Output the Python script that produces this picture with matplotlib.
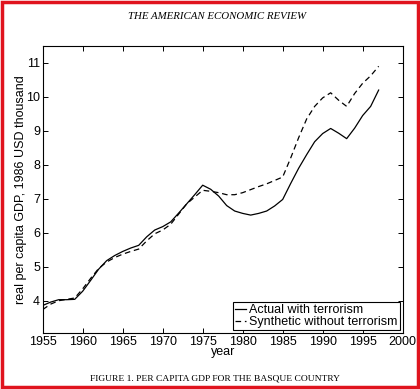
import matplotlib.pyplot as plt
import numpy as np
from matplotlib.patches import Rectangle

years = list(range(1955, 1998))

# real per capita GDP, 1986 USD thousand
actual = [3.86, 3.96, 4.03, 4.03, 4.04, 4.28, 4.6, 4.93, 5.18, 5.33, 5.45,
          5.55, 5.63, 5.88, 6.08, 6.18, 6.32, 6.58, 6.85, 7.12, 7.40, 7.28,
          7.08, 6.80, 6.64, 6.57, 6.52, 6.57, 6.64, 6.79, 6.98, 7.45, 7.90,
          8.30, 8.68, 8.92, 9.07, 8.93, 8.77, 9.08, 9.45, 9.72, 10.20]
synthetic = [3.74, 3.90, 4.00, 4.04, 4.08, 4.35, 4.66, 4.95, 5.14, 5.27, 5.37,
             5.45, 5.52, 5.76, 5.97, 6.08, 6.25, 6.55, 6.85, 7.05, 7.25, 7.22,
             7.18, 7.12, 7.12, 7.18, 7.27, 7.36, 7.44, 7.54, 7.64, 8.20, 8.80,
             9.35, 9.72, 9.97, 10.12, 9.90, 9.72, 10.10, 10.40, 10.62, 10.90]

xticks = list(range(1955, 2001, 5))
yticks = [4, 5, 6, 7, 8, 9, 10, 11]

plt.rcParams['font.family'] = ['Liberation Sans', 'DejaVu Sans']

fig = plt.figure(figsize=(4.2, 3.89), dpi=100)
ax = fig.add_axes([0.1017, 0.144, 0.857, 0.738])

ax.plot(years, actual, color='black', linewidth=0.9, label='Actual with terrorism')
ax.plot(years, synthetic, color='black', linewidth=0.9, dashes=(4.5, 3),
        label='Synthetic without terrorism')

ax.set_xlim(1955, 2000)
ax.set_ylim(3.05, 11.5)
ax.set_xticks(xticks)
ax.set_yticks(yticks)
ax.tick_params(direction='in', length=3.5, width=0.7, labelsize=9,
               top=True, right=True, pad=2)
for s in ax.spines.values():
    s.set_linewidth(0.8)

ax.set_xlabel('year', fontsize=9, labelpad=-1)
ax.set_ylabel('real per capita GDP, 1986 USD thousand', fontsize=9, labelpad=-0.5)

leg = ax.legend(loc='lower right', fontsize=9, handlelength=0.9,
                handletextpad=0.25, borderpad=0.15, labelspacing=0.0,
                borderaxespad=0.25, fancybox=False, framealpha=1)
leg.get_frame().set_edgecolor('black')
leg.get_frame().set_linewidth(0.8)

fig.text(0.517, 0.958, 'THE AMERICAN ECONOMIC REVIEW', ha='center', va='center',
         family='Liberation Serif', style='italic', fontsize=7.8)
fig.text(0.512, 0.028, 'FIGURE 1. PER CAPITA GDP FOR THE BASQUE COUNTRY',
         ha='center', va='center', family='Liberation Serif', fontsize=6.8)

# red frame round the picture
fig.patches.append(Rectangle((0.004, 0.004), 0.992, 0.992, transform=fig.transFigure,
                             fill=False, edgecolor='#e0141e', linewidth=2.5))

fig.savefig('out.png', dpi=100)
